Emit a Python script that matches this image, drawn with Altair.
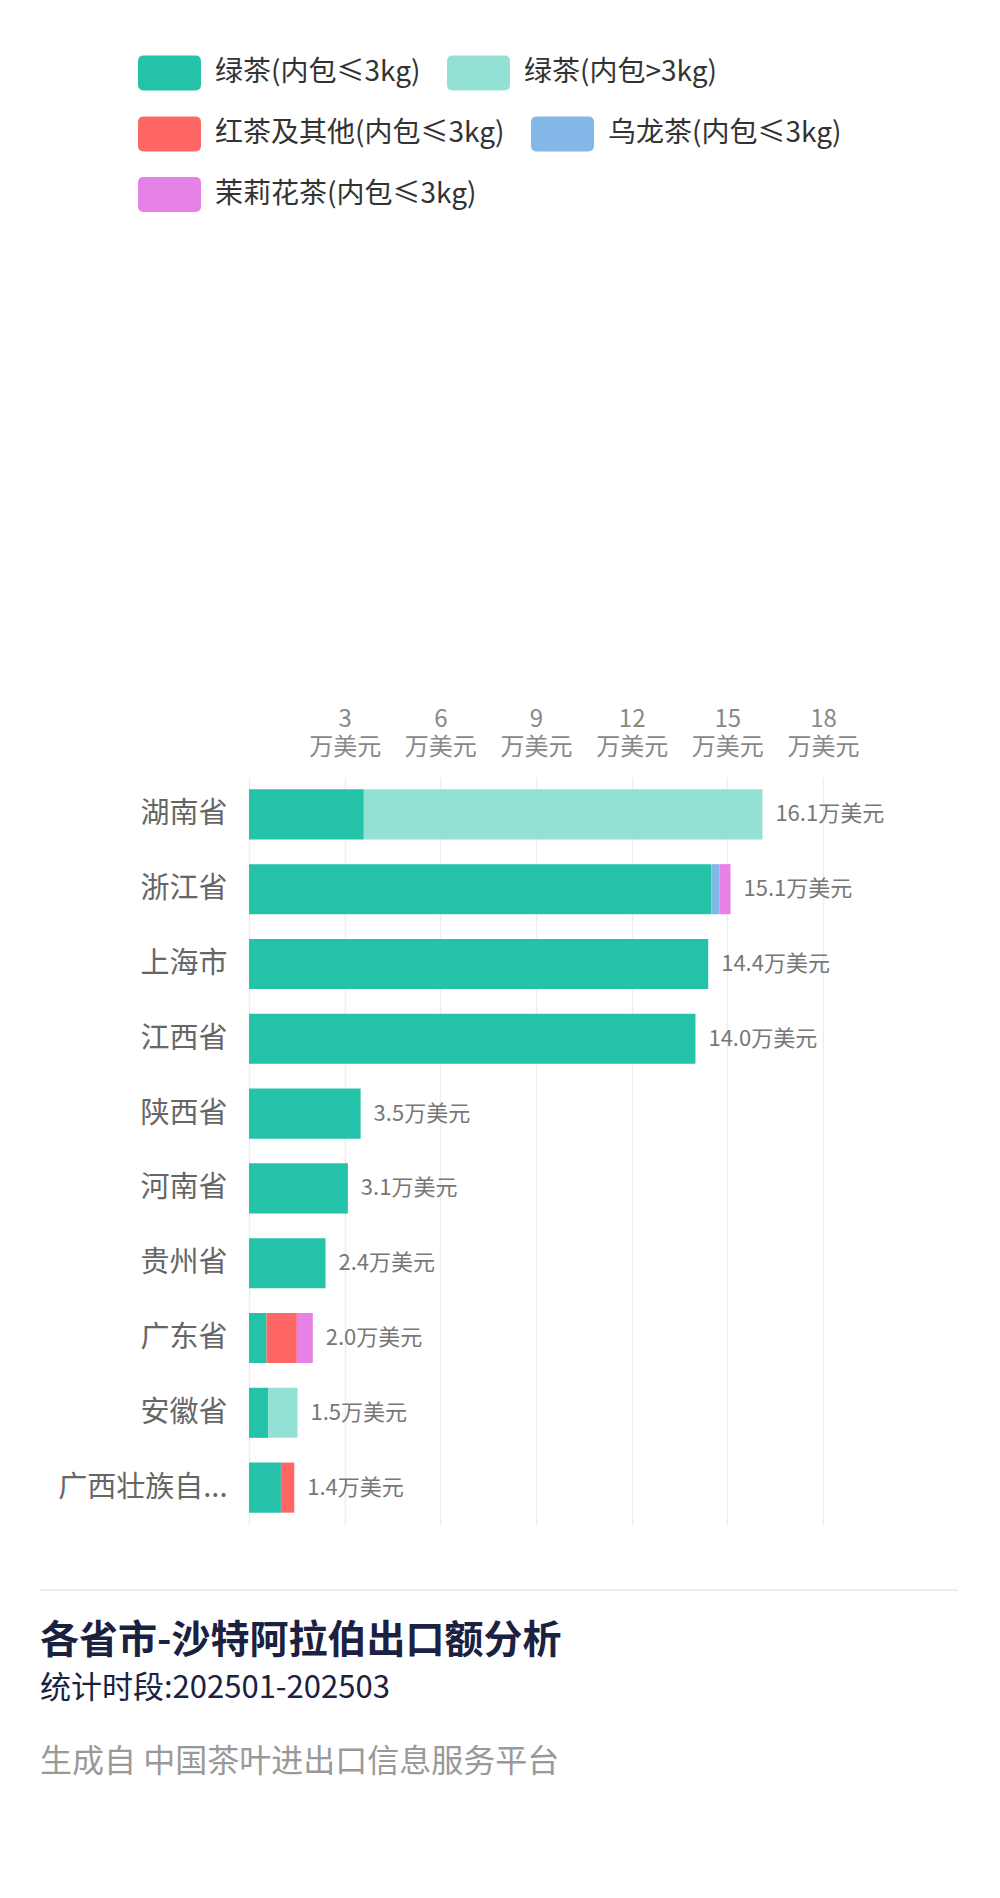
import altair as alt
import pandas as pd

provinces = ["湖南省", "浙江省", "上海市", "江西省", "陕西省", "河南省", "贵州省", "广东省", "安徽省", "广西壮族自治区"]
series = ["绿茶(内包≤3kg)", "绿茶(内包>3kg)", "红茶及其他(内包≤3kg)", "乌龙茶(内包≤3kg)", "茉莉花茶(内包≤3kg)"]
colors = ["#23c2a9", "#93e1d4", "#ff6666", "#84b6e8", "#e681e6"]

green_small = [3.6, 14.5, 14.4, 14.0, 3.5, 3.1, 2.4, 0.55, 0.6, 1.0]
green_large = [12.5, 0, 0, 0, 0, 0, 0, 0, 0.92, 0]
black_other = [0, 0, 0, 0, 0, 0, 0, 0.95, 0, 0.42]
oolong = [0, 0.25, 0, 0, 0, 0, 0, 0, 0, 0]
jasmine = [0, 0.35, 0, 0, 0, 0, 0, 0.5, 0, 0]

tick_values = [0, 3, 6, 9, 12, 15, 18]
title_text = "各省市-沙特阿拉伯出口额分析"
period_text = "统计时段:202501-202503"
source_text = "生成自 中国茶叶进出口信息服务平台"

FONT = "Noto Sans CJK SC"

rows = []
for si, (name, vals) in enumerate(zip(series, [green_small, green_large, black_other, oolong, jasmine])):
    for p, v in zip(provinces, vals):
        if v > 0:
            rows.append({"province": p, "series": name, "value": v, "idx": si})
df = pd.DataFrame(rows)

y_enc = alt.Y(
    "province:N",
    sort=provinces,
    scale=alt.Scale(paddingInner=0.33, paddingOuter=0.165),
    axis=alt.Axis(
        title=None, domain=False, ticks=False, labelFontSize=29, labelColor="#666666",
        labelPadding=22, labelFont=FONT, labelLimit=400,
        labelExpr="length(datum.label) > 6 ? substring(datum.label, 0, 5) + '...' : datum.label",
    ),
)

x_axis = alt.Axis(
    orient="top", values=tick_values, title=None, domain=False, ticks=False,
    labelExpr="datum.value == 0 ? '' : [datum.label, '万美元']", labelOverlap=False,
    labelFlush=False, labelBound=False,
    labelFontSize=24, labelLineHeight=28, labelColor="#888888", labelFont=FONT,
    labelPadding=46, gridColor="#eeeeee", gridWidth=1.5,
)
x_scale = alt.Scale(domain=[0, 18], nice=False)

legend_shape = ("M-0.82,-0.556 L0.82,-0.556 Q1,-0.556 1,-0.376 L1,0.376 Q1,0.556 0.82,0.556 "
                "L-0.82,0.556 Q-1,0.556 -1,0.376 L-1,-0.376 Q-1,-0.556 -0.82,-0.556 Z")

legend_rows = [(series[0:2], colors[0:2], -736), (series[2:4], colors[2:4], -675), (series[4:5], colors[4:5], -614)]

stacked = alt.Chart(df).transform_stack(
    stack="value", as_=["v0", "v1"], groupby=["province"], sort=[alt.SortField("idx", order="ascending")]
)

bar_layers = []
for k, (subset, cols, ly) in enumerate(legend_rows):
    layer = stacked.transform_filter(
        alt.FieldOneOfPredicate(field="series", oneOf=subset)
    ).mark_bar().encode(
        y=y_enc,
        x=alt.X("v0:Q", scale=x_scale, axis=x_axis),
        x2="v1:Q",
        color=alt.Color(
            "series:N",
            scale=alt.Scale(domain=subset, range=cols),
            legend=alt.Legend(
                title=None, orient="none", legendX=-111, legendY=ly, direction="horizontal",
                symbolType=legend_shape, symbolSize=3969, symbolStrokeWidth=0, symbolOpacity=1,
                labelFontSize=28, labelColor="#333333", labelFont=FONT, labelOffset=14,
                columnPadding=26, labelLimit=500,
            ),
        ),
    )
    bar_layers.append(layer)

labels = alt.Chart(df).transform_aggregate(
    total="sum(value)", groupby=["province"]
).transform_calculate(
    lbl="format(datum.total, '.1f') + '万美元'"
).mark_text(align="left", baseline="middle", dx=13, fontSize=22, color="#777777", font=FONT).encode(
    y=alt.Y("province:N", sort=provinces),
    x=alt.X("total:Q", scale=x_scale, axis=x_axis),
    text="lbl:N",
)

sep = alt.Chart(pd.DataFrame({"a": [0]})).mark_rule(color="#eeeeee", strokeWidth=2).encode(
    x=alt.value(-209), x2=alt.value(709), y=alt.value(813)
)

t_title = alt.Chart(pd.DataFrame({"t": [title_text]})).mark_text(
    align="left", baseline="middle", fontSize=39, fontWeight="bold", color="#1b2140", font=FONT
).encode(text="t:N", x=alt.value(-209), y=alt.value(864))

t_period = alt.Chart(pd.DataFrame({"t": [period_text]})).mark_text(
    align="left", baseline="middle", fontSize=31, color="#1b2140", font=FONT
).encode(text="t:N", x=alt.value(-209), y=alt.value(912))

t_source = alt.Chart(pd.DataFrame({"t": [source_text]})).mark_text(
    align="left", baseline="middle", fontSize=32, color="#999999", font=FONT
).encode(text="t:N", x=alt.value(-209), y=alt.value(985))

chart = alt.layer(*bar_layers, labels, sep, t_title, t_period, t_source).resolve_scale(
    color="independent"
).properties(
    width=574, height=748,
    padding={"left": 241, "top": 769, "right": 160, "bottom": 280},
    autosize=alt.AutoSizeParams(type="none"),
).configure_view(stroke=None)

chart.save("out.html", embed_options={"renderer": "svg", "actions": False})
